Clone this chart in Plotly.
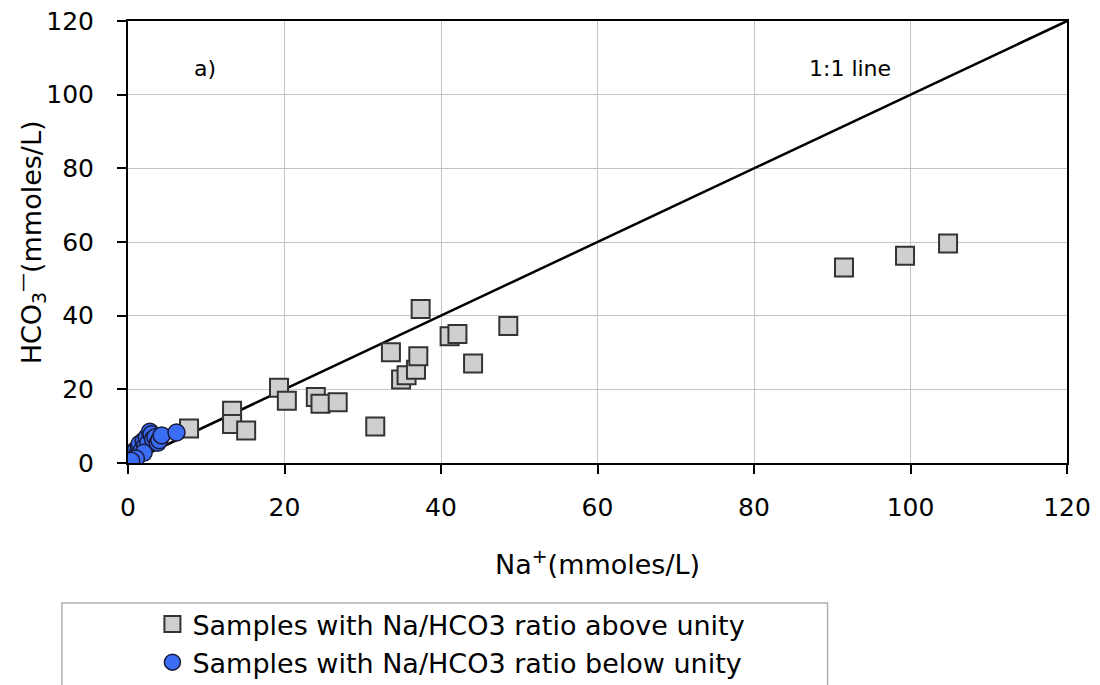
import plotly.graph_objects as go

# Samples with Na/HCO3 ratio above unity (grey squares)
na_above = [7.8, 13.3, 13.3, 15.1, 19.3, 20.3, 24.0, 24.6, 26.8, 31.6,
            33.6, 34.9, 35.6, 36.8, 37.1, 37.4, 41.1, 42.1, 44.1, 48.6,
            91.5, 99.3, 104.8]
hco3_above = [9.4, 14.2, 10.6, 8.8, 20.4, 16.9, 17.9, 16.1, 16.5, 9.9,
              30.1, 22.7, 23.8, 25.3, 29.0, 41.8, 34.4, 35.0, 27.0, 37.2,
              53.1, 56.3, 59.6]

# Samples with Na/HCO3 ratio below unity (blue circles)
na_below = [0.2, 0.3, 0.5, 0.6, 0.8, 1.0, 1.2, 1.4, 1.5, 1.7, 2.0, 2.2,
            2.4, 2.6, 2.8, 3.0, 3.2, 3.5, 3.8, 4.0, 4.3, 6.2, 2.0, 1.0, 0.4]
hco3_below = [0.5, 1.2, 2.0, 2.8, 1.5, 3.5, 2.5, 4.5, 5.2, 3.2, 6.0, 4.8,
              7.0, 5.5, 8.5, 7.8, 6.5, 7.0, 5.5, 6.2, 7.5, 8.3, 2.8, 1.2, 0.6]

line_x = [0, 120]
line_y = [0, 120]

x_ticks = [0, 20, 40, 60, 80, 100, 120]
y_ticks = [0, 20, 40, 60, 80, 100, 120]

FONT = "DejaVu Sans, Liberation Sans, Arial, sans-serif"

fig = go.Figure()

fig.add_trace(go.Scatter(
    x=line_x, y=line_y, mode="lines",
    line=dict(color="black", width=2.5),
    showlegend=False, hoverinfo="skip"))

fig.add_trace(go.Scatter(
    x=na_above, y=hco3_above, mode="markers",
    name="Samples with Na/HCO3 ratio above unity",
    legendgroup="a",
    marker=dict(symbol="square", size=18, color="#cfcfcf",
                line=dict(color="#333333", width=2))))

fig.add_trace(go.Scatter(
    x=na_below, y=hco3_below, mode="markers",
    name="Samples with Na/HCO3 ratio below unity",
    legendgroup="b",
    marker=dict(symbol="circle", size=17, color="#3a6cf4",
                line=dict(color="#1a1a3a", width=1.5))))

axis_common = dict(
    range=[0, 120], showline=True, linecolor="black", linewidth=2,
    mirror=True, ticks="outside", ticklen=9, tickwidth=2, tickcolor="black",
    showgrid=True, gridcolor="#c4c4c4", gridwidth=1, zeroline=False,
    tickfont=dict(family=FONT, size=25, color="black"),
    automargin=False,
)

fig.update_xaxes(tickvals=x_ticks, ticklabelstandoff=12, **axis_common)
fig.update_yaxes(tickvals=y_ticks, ticklabelstandoff=18, **axis_common)

fig.update_layout(
    width=1100, height=685,
    margin=dict(l=128, r=33, t=21, b=222, autoexpand=False),
    plot_bgcolor="white", paper_bgcolor="white",
    font=dict(family=FONT, color="black"),
    legend=dict(
        x=0.026, y=-0.31, xanchor="left", yanchor="top",
        font=dict(family=FONT, size=27, color="black"),
        bgcolor="rgba(0,0,0,0)", borderwidth=0,
        tracegroupgap=0, itemsizing="trace",
    ),
    shapes=[dict(type="rect", xref="paper", yref="paper",
                 x0=-0.0704, x1=0.745, y0=-0.55, y1=-0.3166,
                 line=dict(color="#b0b0b0", width=1.5), fillcolor="rgba(0,0,0,0)",
                 layer="below")],
    annotations=[
        dict(x=-0.104, y=0.5, xref="paper", yref="paper", textangle=-90,
             text="HCO<sub>3</sub><sup>\u2014</sup>(mmoles/L)", showarrow=False,
             font=dict(family=FONT, size=27, color="black"),
             xanchor="center", yanchor="middle"),
        dict(x=0.5, y=-0.226, xref="paper", yref="paper",
             text="Na<sup>+</sup>(mmoles/L)", showarrow=False,
             font=dict(family=FONT, size=27, color="black"),
             xanchor="center", yanchor="middle"),
        dict(x=9.8, y=107, xref="x", yref="y", text="a)", showarrow=False,
             font=dict(family=FONT, size=22, color="black")),
        dict(x=92.3, y=107, xref="x", yref="y", text="1:1 line", showarrow=False,
             font=dict(family=FONT, size=22, color="black")),
    ],
)

fig.write_html("out.html")
